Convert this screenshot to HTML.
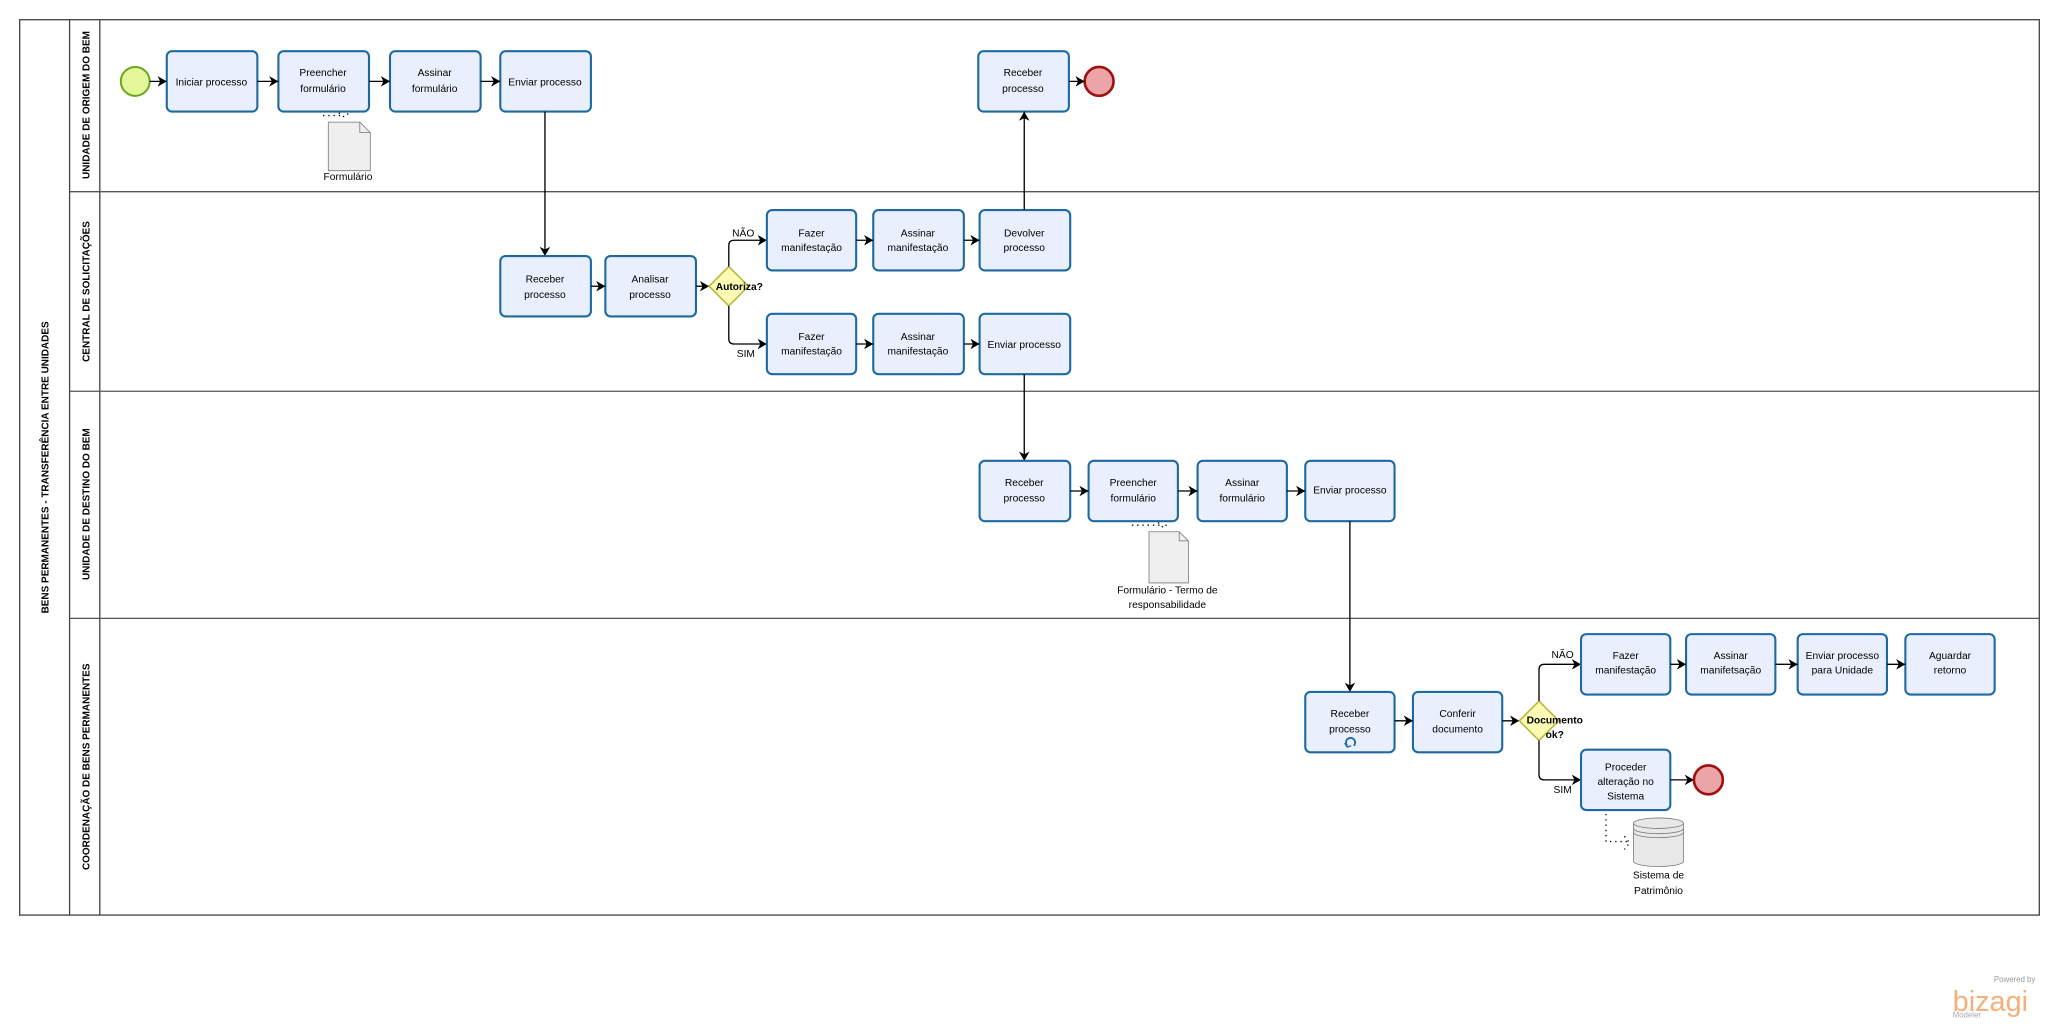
<!DOCTYPE html>
<html><head><meta charset="utf-8"><style>
html,body{margin:0;padding:0;background:#fff;}
svg{display:block;}
text{font-family:"Liberation Sans",sans-serif;font-size:7.8px;fill:#000;}
.t{fill:#eaeffd;stroke:#1e6aa0;stroke-width:1.6;}
.b{font-weight:bold;font-size:7.6px;}
.c{stroke:#000;stroke-width:1;fill:none;}
</style></head><body>
<svg width="2059" height="1028" viewBox="0 0 1568 783" preserveAspectRatio="none">
<defs><marker id="a" markerWidth="8" markerHeight="8" refX="7" refY="4" orient="auto" markerUnits="userSpaceOnUse"><path d="M0,0 L7,4 L0,8 L2,4 Z" fill="#000"/></marker></defs>
<rect x="15" y="15" width="1538" height="682" fill="#fff" stroke="#444" stroke-width="1"/>
<line x1="53" y1="15" x2="53" y2="697" stroke="#444"/>
<line x1="76" y1="15" x2="76" y2="697" stroke="#444"/>
<line x1="53" y1="146" x2="1553" y2="146" stroke="#555"/>
<line x1="53" y1="298" x2="1553" y2="298" stroke="#555"/>
<line x1="53" y1="471" x2="1553" y2="471" stroke="#555"/>
<text class="b" transform="translate(37,356) rotate(-90)" text-anchor="middle">BENS PERMANENTES - TRANSFERÊNCIA ENTRE UNIDADES</text>
<text class="b" transform="translate(68,80) rotate(-90)" text-anchor="middle">UNIDADE DE ORIGEM DO BEM</text>
<text class="b" transform="translate(68,222) rotate(-90)" text-anchor="middle">CENTRAL DE SOLICITAÇÕES</text>
<text class="b" transform="translate(68,384) rotate(-90)" text-anchor="middle">UNIDADE DE DESTINO DO BEM</text>
<text class="b" transform="translate(68,584) rotate(-90)" text-anchor="middle">COORDENAÇÃO DE BENS PERMANENTES</text>

<!-- lane 1 -->
<circle cx="103" cy="62" r="11" fill="#e4f79a" stroke="#6aa51e" stroke-width="1.5"/>
<rect class="t" x="127" y="39" width="69" height="46" rx="4"/><text x="161" y="65" text-anchor="middle">Iniciar processo</text>
<rect class="t" x="212" y="39" width="69" height="46" rx="4"/><text x="246" y="58" text-anchor="middle">Preencher</text><text x="246" y="70" text-anchor="middle">formulário</text>
<rect class="t" x="297" y="39" width="69" height="46" rx="4"/><text x="331" y="58" text-anchor="middle">Assinar</text><text x="331" y="70" text-anchor="middle">formulário</text>
<rect class="t" x="381" y="39" width="69" height="46" rx="4"/><text x="415" y="65" text-anchor="middle">Enviar processo</text>
<rect class="t" x="745" y="39" width="69" height="46" rx="4"/><text x="779" y="58" text-anchor="middle">Receber</text><text x="779" y="70" text-anchor="middle">processo</text>
<circle cx="837" cy="62" r="11" fill="#eba4a8" stroke="#a01010" stroke-width="2"/>
<line class="c" x1="114" y1="62" x2="127" y2="62" marker-end="url(#a)"/>
<line class="c" x1="196" y1="62" x2="212" y2="62" marker-end="url(#a)"/>
<line class="c" x1="281" y1="62" x2="297" y2="62" marker-end="url(#a)"/>
<line class="c" x1="366" y1="62" x2="381" y2="62" marker-end="url(#a)"/>
<line class="c" x1="814" y1="62" x2="826" y2="62" marker-end="url(#a)"/>
<path d="M250,93 H274 L282,101 V130 H250 Z" fill="#efefef" stroke="#777" stroke-width="0.6"/>
<path d="M274,93 V101 H282" fill="none" stroke="#777" stroke-width="0.6"/>
<path d="M246,88 H262 M258,86 L262,89 L266,86" class="c" stroke-dasharray="1,3"/>
<text x="265" y="137" text-anchor="middle">Formulário</text>
<line class="c" x1="415" y1="85" x2="415" y2="195" marker-end="url(#a)"/>

<!-- lane 2 -->
<rect class="t" x="381" y="195" width="69" height="46" rx="4"/><text x="415" y="215" text-anchor="middle">Receber</text><text x="415" y="227" text-anchor="middle">processo</text>
<rect class="t" x="461" y="195" width="69" height="46" rx="4"/><text x="495" y="215" text-anchor="middle">Analisar</text><text x="495" y="227" text-anchor="middle">processo</text>
<line class="c" x1="450" y1="218" x2="461" y2="218" marker-end="url(#a)"/>
<line class="c" x1="530" y1="218" x2="540" y2="218" marker-end="url(#a)"/>
<path d="M555,203 L570,218 L555,233 L540,218 Z" fill="#fbfbb5" stroke="#b8b83a" stroke-width="1.2"/>
<text x="563" y="221" text-anchor="middle" font-weight="bold">Autoriza?</text>
<path class="c" d="M555,203 V187 Q555,183 559,183 H584" marker-end="url(#a)"/>
<path class="c" d="M555,233 V258 Q555,262 559,262 H584" marker-end="url(#a)"/>
<text x="566" y="180" text-anchor="middle">NÃO</text>
<text x="568" y="272" text-anchor="middle">SIM</text>
<rect class="t" x="584" y="160" width="68" height="46" rx="4"/><text x="618" y="180" text-anchor="middle">Fazer</text><text x="618" y="191" text-anchor="middle">manifestação</text>
<rect class="t" x="665" y="160" width="69" height="46" rx="4"/><text x="699" y="180" text-anchor="middle">Assinar</text><text x="699" y="191" text-anchor="middle">manifestação</text>
<rect class="t" x="746" y="160" width="69" height="46" rx="4"/><text x="780" y="180" text-anchor="middle">Devolver</text><text x="780" y="191" text-anchor="middle">processo</text>
<rect class="t" x="584" y="239" width="68" height="46" rx="4"/><text x="618" y="259" text-anchor="middle">Fazer</text><text x="618" y="270" text-anchor="middle">manifestação</text>
<rect class="t" x="665" y="239" width="69" height="46" rx="4"/><text x="699" y="259" text-anchor="middle">Assinar</text><text x="699" y="270" text-anchor="middle">manifestação</text>
<rect class="t" x="746" y="239" width="69" height="46" rx="4"/><text x="780" y="265" text-anchor="middle">Enviar processo</text>
<line class="c" x1="652" y1="183" x2="665" y2="183" marker-end="url(#a)"/>
<line class="c" x1="734" y1="183" x2="746" y2="183" marker-end="url(#a)"/>
<line class="c" x1="652" y1="262" x2="665" y2="262" marker-end="url(#a)"/>
<line class="c" x1="734" y1="262" x2="746" y2="262" marker-end="url(#a)"/>
<line class="c" x1="780" y1="160" x2="780" y2="85" marker-end="url(#a)"/>
<line class="c" x1="780" y1="285" x2="780" y2="351" marker-end="url(#a)"/>

<!-- lane 3 -->
<rect class="t" x="746" y="351" width="69" height="46" rx="4"/><text x="780" y="370" text-anchor="middle">Receber</text><text x="780" y="382" text-anchor="middle">processo</text>
<rect class="t" x="829" y="351" width="68" height="46" rx="4"/><text x="863" y="370" text-anchor="middle">Preencher</text><text x="863" y="382" text-anchor="middle">formulário</text>
<rect class="t" x="912" y="351" width="68" height="46" rx="4"/><text x="946" y="370" text-anchor="middle">Assinar</text><text x="946" y="382" text-anchor="middle">formulário</text>
<rect class="t" x="994" y="351" width="68" height="46" rx="4"/><text x="1028" y="376" text-anchor="middle">Enviar processo</text>
<line class="c" x1="815" y1="374" x2="829" y2="374" marker-end="url(#a)"/>
<line class="c" x1="897" y1="374" x2="912" y2="374" marker-end="url(#a)"/>
<line class="c" x1="980" y1="374" x2="994" y2="374" marker-end="url(#a)"/>
<path d="M875,405 H898 L905,412 V444 H875 Z" fill="#efefef" stroke="#777" stroke-width="0.6"/>
<path d="M898,405 V412 H905" fill="none" stroke="#777" stroke-width="0.6"/>
<path d="M862,400 H886 M882,398 L886,402 L890,398" class="c" stroke-dasharray="1,3"/>
<text x="889" y="452" text-anchor="middle">Formulário -  Termo de</text>
<text x="889" y="463" text-anchor="middle">responsabilidade</text>
<line class="c" x1="1028" y1="397" x2="1028" y2="527" marker-end="url(#a)"/>

<!-- lane 4 -->
<rect class="t" x="994" y="527" width="68" height="46" rx="4"/><text x="1028" y="546" text-anchor="middle">Receber</text><text x="1028" y="558" text-anchor="middle">processo</text>
<path d="M1026,568 A3.5,3.5 0 1 1 1031,568" fill="none" stroke="#1e6aa0" stroke-width="1.4"/>
<path d="M1024,566 L1026,569 L1029,568" fill="none" stroke="#1e6aa0" stroke-width="1"/>
<rect class="t" x="1076" y="527" width="68" height="46" rx="4"/><text x="1110" y="546" text-anchor="middle">Conferir</text><text x="1110" y="558" text-anchor="middle">documento</text>
<line class="c" x1="1062" y1="549" x2="1076" y2="549" marker-end="url(#a)"/>
<line class="c" x1="1144" y1="549" x2="1157" y2="549" marker-end="url(#a)"/>
<path d="M1172,534 L1187,549 L1172,564 L1157,549 Z" fill="#fbfbb5" stroke="#b8b83a" stroke-width="1.2"/>
<text x="1184" y="551" text-anchor="middle" font-weight="bold">Documento</text>
<text x="1184" y="562" text-anchor="middle" font-weight="bold">ok?</text>
<path class="c" d="M1172,534 V510 Q1172,506 1176,506 H1204" marker-end="url(#a)"/>
<path class="c" d="M1172,564 V590 Q1172,594 1176,594 H1204" marker-end="url(#a)"/>
<text x="1190" y="501" text-anchor="middle">NÃO</text>
<text x="1190" y="604" text-anchor="middle">SIM</text>
<rect class="t" x="1204" y="483" width="68" height="46" rx="4"/><text x="1238" y="502" text-anchor="middle">Fazer</text><text x="1238" y="513" text-anchor="middle">manifestação</text>
<rect class="t" x="1284" y="483" width="68" height="46" rx="4"/><text x="1318" y="502" text-anchor="middle">Assinar</text><text x="1318" y="513" text-anchor="middle">manifetsação</text>
<rect class="t" x="1369" y="483" width="68" height="46" rx="4"/><text x="1403" y="502" text-anchor="middle">Enviar processo</text><text x="1403" y="513" text-anchor="middle">para Unidade</text>
<rect class="t" x="1451" y="483" width="68" height="46" rx="4"/><text x="1485" y="502" text-anchor="middle">Aguardar</text><text x="1485" y="513" text-anchor="middle">retorno</text>
<line class="c" x1="1272" y1="506" x2="1284" y2="506" marker-end="url(#a)"/>
<line class="c" x1="1352" y1="506" x2="1369" y2="506" marker-end="url(#a)"/>
<line class="c" x1="1437" y1="506" x2="1451" y2="506" marker-end="url(#a)"/>
<rect class="t" x="1204" y="571" width="68" height="46" rx="4"/><text x="1238" y="587" text-anchor="middle">Proceder</text><text x="1238" y="598" text-anchor="middle">alteração no</text><text x="1238" y="609" text-anchor="middle">Sistema</text>
<line class="c" x1="1272" y1="594" x2="1290" y2="594" marker-end="url(#a)"/>
<circle cx="1301" cy="594" r="11" fill="#eba4a8" stroke="#a01010" stroke-width="2"/>
<path d="M1223,620 V641 H1240 M1237,637 L1241,642 L1237,647" class="c" stroke-dasharray="1,3"/>
<path d="M1244,627 V656 A19,4 0 0 0 1282,656 V627" fill="#e8e8e8" stroke="#777" stroke-width="0.6"/>
<ellipse cx="1263" cy="627" rx="19" ry="4" fill="#e8e8e8" stroke="#777" stroke-width="0.6"/>
<path d="M1244,631 A19,4 0 0 0 1282,631 M1244,634 A19,4 0 0 0 1282,634" fill="none" stroke="#777" stroke-width="0.6"/>
<text x="1263" y="669" text-anchor="middle">Sistema de</text>
<text x="1263" y="681" text-anchor="middle">Patrimônio</text>

<!-- logo -->
<text x="1550" y="748" text-anchor="end" style="fill:#999;font-size:6px">Powered by</text>
<text x="1487" y="770" style="fill:#f5b07a;font-size:22px">bizagi</text>
<text x="1487" y="775" style="fill:#aaa;font-size:6px">Modeler</text>
</svg>
</body></html>
